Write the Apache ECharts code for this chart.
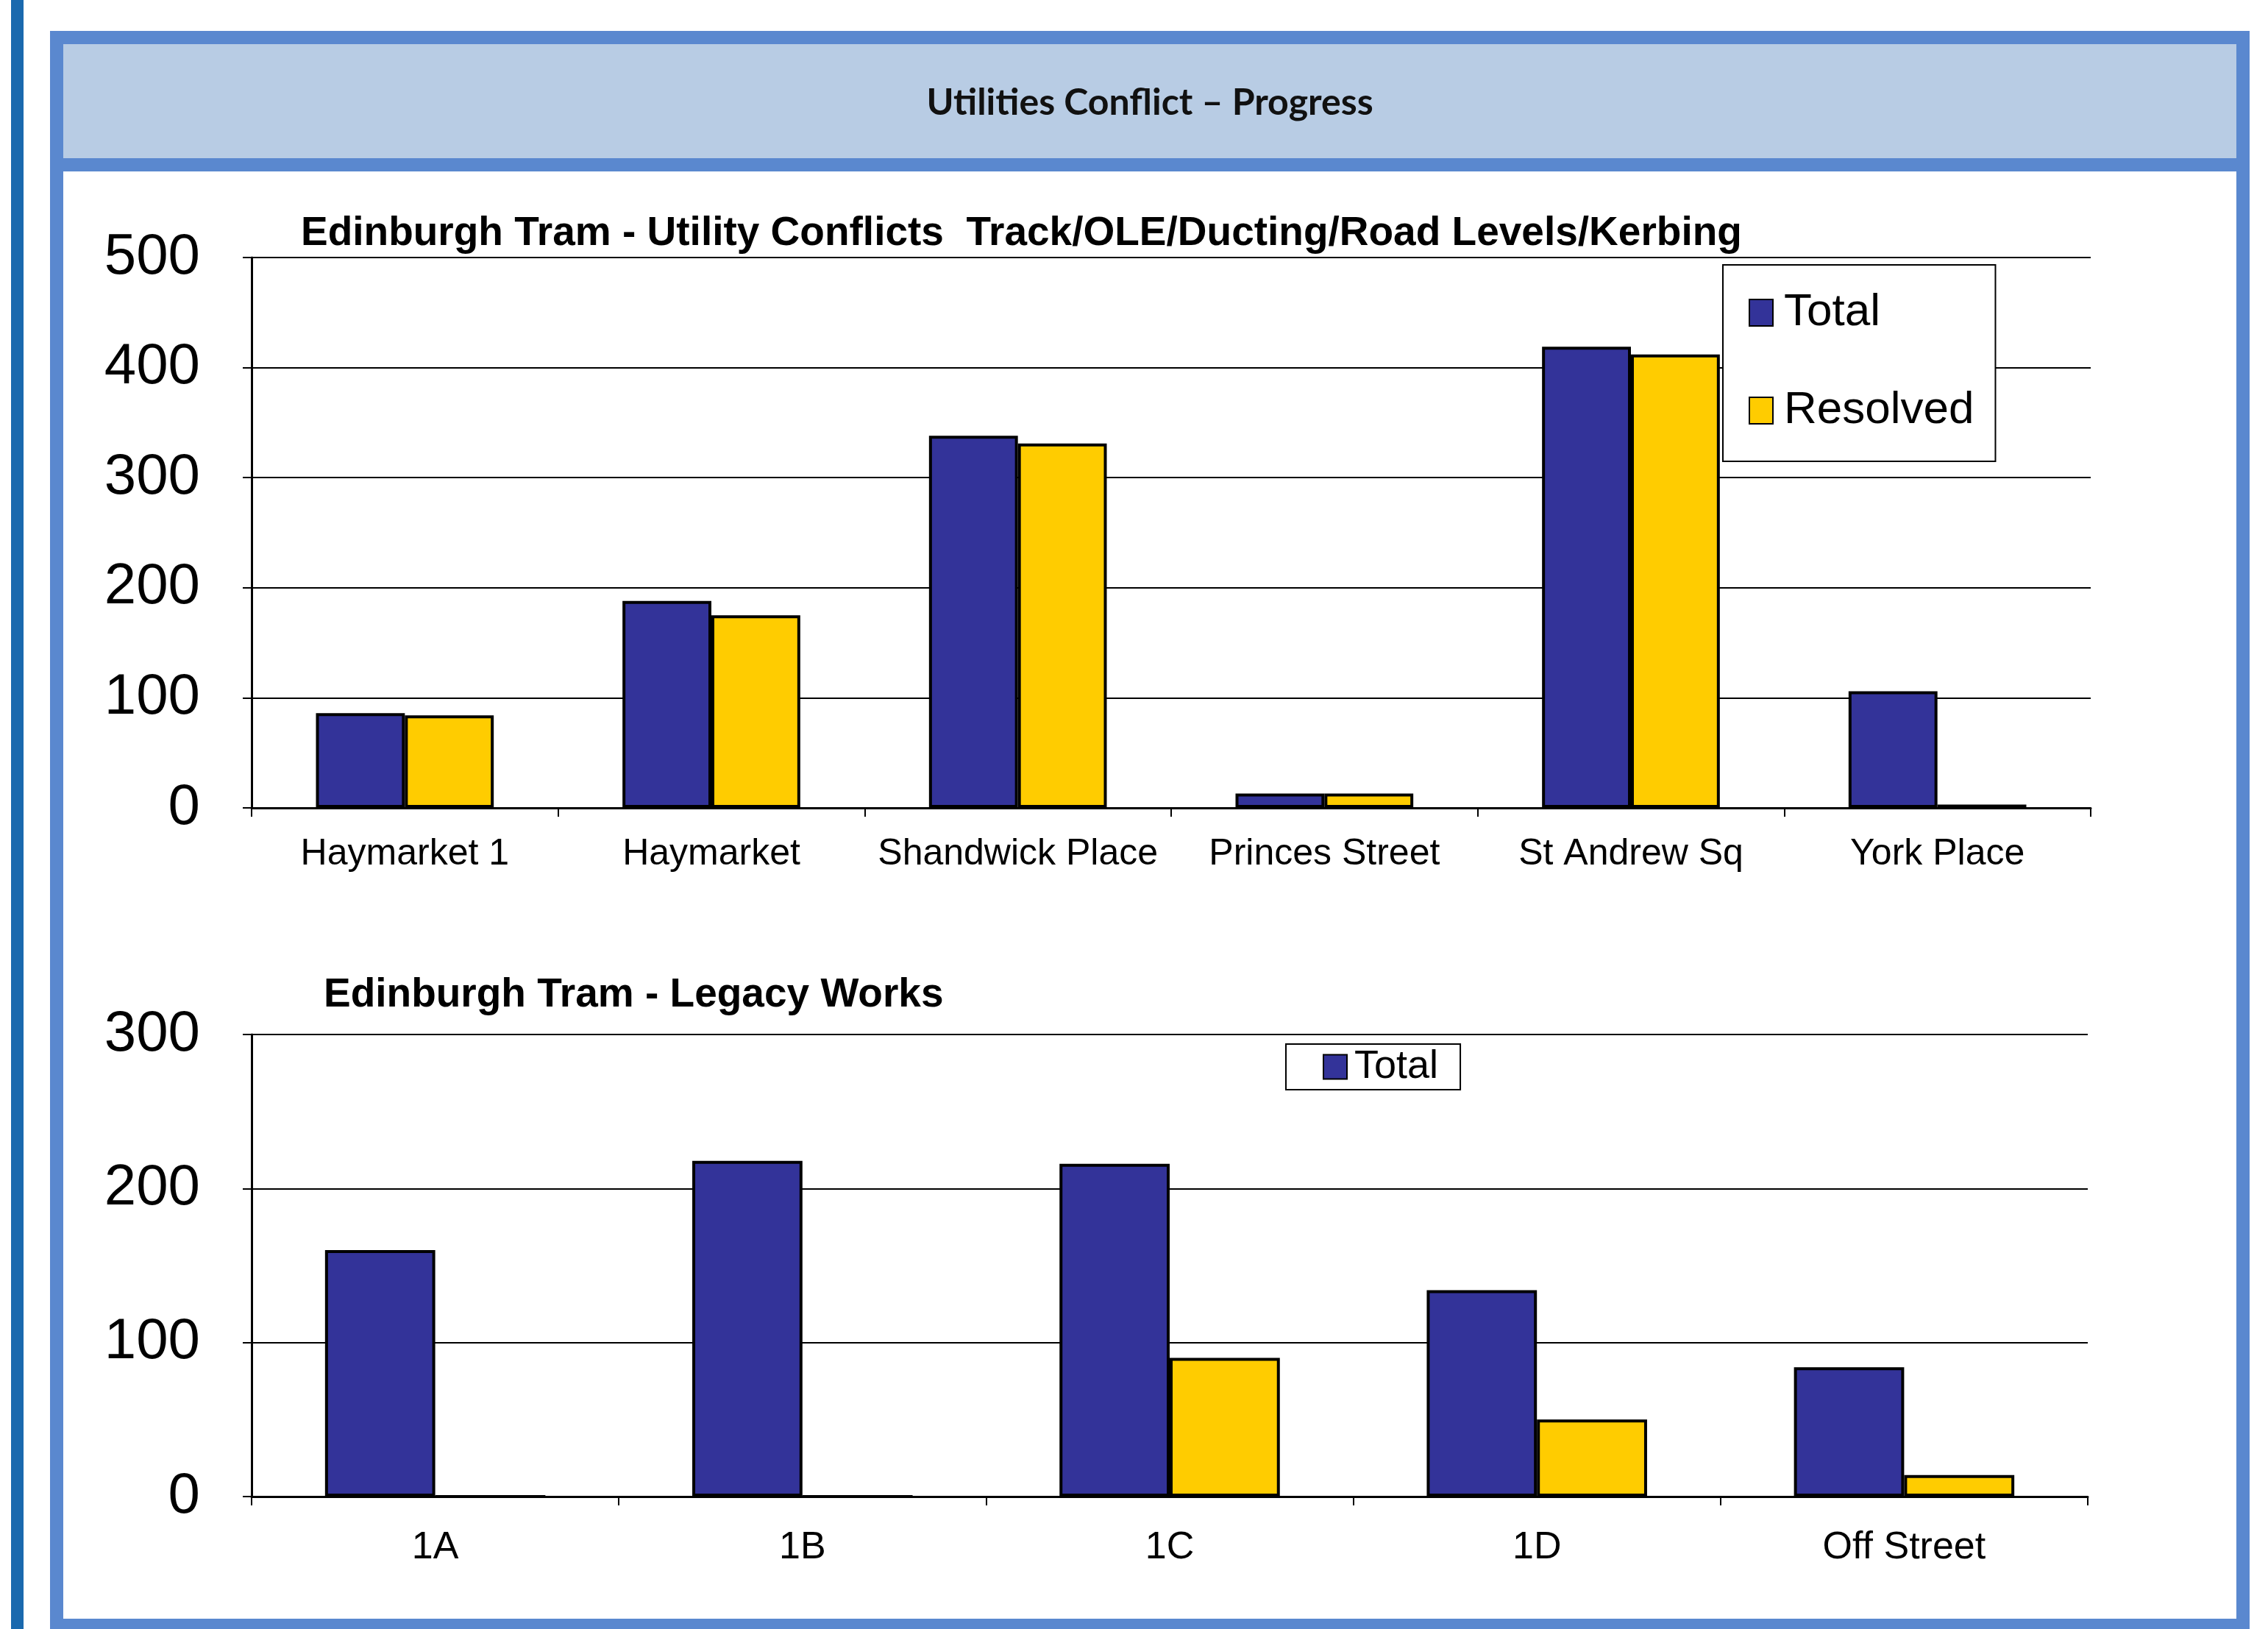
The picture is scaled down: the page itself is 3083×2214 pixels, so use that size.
<!DOCTYPE html>
<html>
<head>
<meta charset="utf-8">
<script src="https://cdn.jsdelivr.net/npm/echarts@6/dist/echarts.min.js"></script>
<style>
html,body{margin:0;padding:0;background:#fff;}
#c{width:3083px;height:2214px;}
</style>
</head>
<body>
<div id="c"></div>
<script>
// ---- data ----
const headerTitle = 'Utilities Conflict \u2013 Progress';
const title1 = 'Edinburgh Tram - Utility Conflicts  Track/OLE/Ducting/Road Levels/Kerbing';
const title2 = 'Edinburgh Tram - Legacy Works';
const cats1 = ['Haymarket 1', 'Haymarket', 'Shandwick Place', 'Princes Street', 'St Andrew Sq', 'York Place'];
const total1 = [86, 188, 338, 13, 419, 106];
const resolved1 = [84, 175, 331, 13, 412, 3];
const cats2 = ['1A', '1B', '1C', '1D', 'Off Street'];
const total2 = [160, 218, 216, 134, 84];
const resolved2 = [0, 0, 90, 50, 14];
const yTicks1 = {min: 0, max: 500, interval: 100};
const yTicks2 = {min: 0, max: 300, interval: 100};

const NAVY = '#333399', GOLD = '#FFCC00';
const FONT = '"Liberation Sans", Arial, sans-serif';
const BORDER = '#5a88cf';

const chart = echarts.init(document.getElementById('c'), null, {renderer: 'canvas'});

function yAxis(gi, t) {
  return {
    type: 'value', gridIndex: gi, min: t.min, max: t.max, interval: t.interval,
    axisLine: {show: true, lineStyle: {color: '#000', width: 3}},
    axisTick: {show: true, length: 12, lineStyle: {color: '#000', width: 2}},
    axisLabel: {color: '#000', fontSize: 78, fontFamily: FONT, margin: 70},
    splitLine: {show: true, lineStyle: {color: '#000', width: 2}}
  };
}
function xAxis(gi, cats, fs, margin) {
  return {
    type: 'category', gridIndex: gi, data: cats,
    axisLine: {show: true, lineStyle: {color: '#000', width: 3}},
    axisTick: {show: true, alignWithLabel: false, length: 12, lineStyle: {color: '#000', width: 2}},
    axisLabel: {color: '#000', fontSize: fs, fontFamily: FONT, margin: margin, interval: 0}
  };
}
function bar(name, data, color, gi, gap) {
  return {
    type: 'bar', name: name, data: data, xAxisIndex: gi, yAxisIndex: gi,
    barGap: '0%', barCategoryGap: gap,
    itemStyle: {color: color, borderColor: '#000', borderWidth: 4},
    emphasis: {disabled: true}, animation: false
  };
}

const option = {
  backgroundColor: '#fff',
  animation: false,
  graphic: [
    {type: 'rect', z: 0, shape: {x: 15, y: 0, width: 17, height: 2214}, style: {fill: '#1a69ae'}},
    {type: 'rect', z: 0, shape: {x: 77, y: 224, width: 2972, height: 1985}, style: {fill: '#fff', stroke: BORDER, lineWidth: 18}},
    {type: 'rect', z: 0, shape: {x: 77, y: 51, width: 2972, height: 173}, style: {fill: '#b8cce4', stroke: BORDER, lineWidth: 18}},
    {type: 'text', z: 5, x: 1563, y: 140, style: {text: headerTitle, fill: '#111', font: 'bold 50px Lato, "Noto Sans", sans-serif', textAlign: 'center', textVerticalAlign: 'middle'}}
  ],
  title: [
    {text: title1, left: 409, top: 290, padding: 0, textStyle: {fontSize: 55, fontWeight: 'bold', fontFamily: FONT, color: '#000', lineHeight: 56}},
    {text: title2, left: 440, top: 1325, padding: 0, textStyle: {fontSize: 55, fontWeight: 'bold', fontFamily: FONT, color: '#000', lineHeight: 55}}
  ],
  legend: [
    {
      data: [{name: 'Total', icon: 'rect'}, {name: 'Resolved', icon: 'rect'}], orient: 'vertical', left: 2342, top: 360,
      padding: [34, 29, 38, 35], itemGap: 71, itemWidth: 32, itemHeight: 36,
      backgroundColor: '#fff', borderColor: '#000', borderWidth: 2,
      textStyle: {fontSize: 62, fontFamily: FONT, color: '#000', lineHeight: 62, padding: [0, 0, 0, 10]},
      selectedMode: false
    },
    {
      data: [{name: 'Total', icon: 'rect'}], orient: 'horizontal', left: 1748, top: 1419,
      padding: [4, 30, 4, 50], itemWidth: 32, itemHeight: 33,
      backgroundColor: '#fff', borderColor: '#000', borderWidth: 2,
      textStyle: {fontSize: 54, fontFamily: FONT, color: '#000', lineHeight: 54, padding: [0, 0, 0, 5]},
      selectedMode: false
    }
  ],
  grid: [
    {left: 342, top: 350, width: 2500, height: 748, show: true, borderColor: '#888', borderWidth: 5, backgroundColor: 'transparent'},
    {left: 342, top: 1406, width: 2496, height: 628, show: true, borderColor: '#888', borderWidth: 5, backgroundColor: 'transparent'}
  ],
  xAxis: [xAxis(0, cats1, 50, 38), xAxis(1, cats2, 52, 44)],
  yAxis: [yAxis(0, yTicks1), yAxis(1, yTicks2)],
  series: [
    bar('Total', total1, NAVY, 0, '42%'),
    bar('Resolved', resolved1, GOLD, 0, '42%'),
    bar('Total', total2, NAVY, 1, '40%'),
    bar('Resolved', resolved2, GOLD, 1, '40%')
  ]
};
chart.setOption(option);
</script>
</body>
</html>
